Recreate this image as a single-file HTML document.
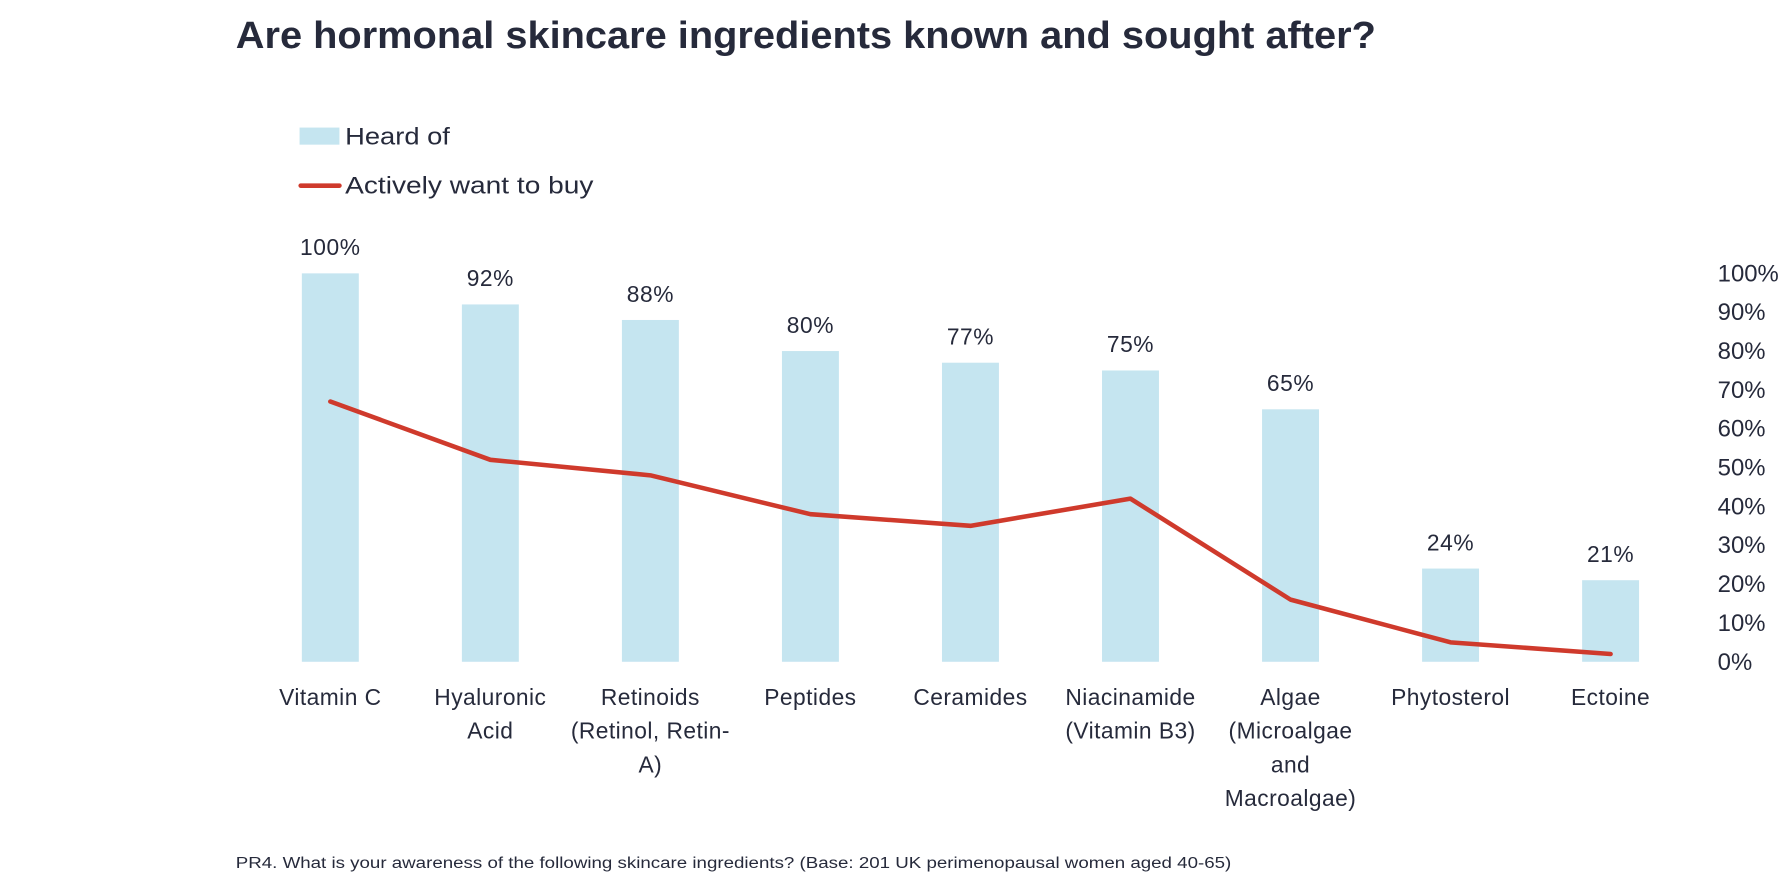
<!DOCTYPE html>
<html><head><meta charset="utf-8"><style>
html,body{margin:0;padding:0;background:#fff;}
svg{display:block;font-family:"Liberation Sans",sans-serif;}
</style></head><body>
<svg id="chart" width="1786" height="893" viewBox="0 0 1568 784" xmlns="http://www.w3.org/2000/svg">
<text x="207" y="42" font-size="33" font-weight="bold" fill="#262a3b" textLength="1001" lengthAdjust="spacingAndGlyphs">Are hormonal skincare ingredients known and sought after?</text>
<g>
<rect x="263" y="112" width="35" height="15" fill="#c5e5f0"/>
<text x="303" y="127" font-size="21" fill="#262a3b" textLength="92" lengthAdjust="spacingAndGlyphs">Heard of</text>
<line x1="264" y1="163" x2="298" y2="163" stroke="#cf3a2c" stroke-width="4" stroke-linecap="round"/>
<text x="303" y="170" font-size="21" fill="#262a3b" textLength="218" lengthAdjust="spacingAndGlyphs">Actively want to buy</text>
</g>
<g id="bars"></g><g id="line"></g><g id="labels"></g><g id="yaxis"></g>
<text x="207" y="762" font-size="14" fill="#262a3b" textLength="874" lengthAdjust="spacingAndGlyphs">PR4. What is your awareness of the following skincare ingredients? (Base: 201 UK perimenopausal women aged 40-65)</text>
</svg>
<script>
const categories = [["Vitamin C"],["Hyaluronic","Acid"],["Retinoids","(Retinol, Retin-","A)"],["Peptides"],["Ceramides"],["Niacinamide","(Vitamin B3)"],["Algae","(Microalgae","and","Macroalgae)"],["Phytosterol"],["Ectoine"]];
const heardOf = [100,92,88,80,77,75,65,24,21];
const wantToBuy = [67,52,48,38,35,42,16,5,2];
const yTicks = [0,10,20,30,40,50,60,70,80,90,100];
const NS="http://www.w3.org/2000/svg";
const x0=290, step=140.5, yBase=581, yTop=240;
const xPos=i=>x0+i*step;
const yPos=v=>yBase-(yBase-yTop)*v/100;
function mk(tag,attrs,parent){const e=document.createElementNS(NS,tag);for(const k in attrs)e.setAttribute(k,attrs[k]);parent.appendChild(e);return e;}
const gb=document.getElementById('bars'),gl=document.getElementById('line'),gt=document.getElementById('labels'),gy=document.getElementById('yaxis');
heardOf.forEach((v,i)=>{
  const r=mk('rect',{x:xPos(i)-25,y:yPos(v),width:50,height:yBase-yPos(v),fill:'#c5e5f0'},gb);
  
  
  const t=mk('text',{x:xPos(i),y:yPos(v)-16,'font-size':20,fill:'#262a3b','text-anchor':'middle','letter-spacing':'0.5'},gt);
  t.textContent=v+'%';
  
  
  categories[i].forEach((ln,j)=>{
    const c=mk('text',{x:xPos(i),y:619+j*29.5,'font-size':20,fill:'#262a3b','text-anchor':'middle','letter-spacing':'0.4'},gt);
    c.textContent=ln;
    
    
  });
});
const pts=wantToBuy.map((v,i)=>xPos(i)+','+yPos(v)).join(' ');
const pl=mk('polyline',{points:pts,fill:'none',stroke:'#cf3a2c','stroke-width':4,'stroke-linejoin':'round','stroke-linecap':'round'},gl);


yTicks.forEach(v=>{
  const t=mk('text',{x:1508,y:yPos(v)+7,'font-size':21,fill:'#262a3b'},gy);
  t.textContent=v+'%';
  
  
});
</script>
</body></html>
